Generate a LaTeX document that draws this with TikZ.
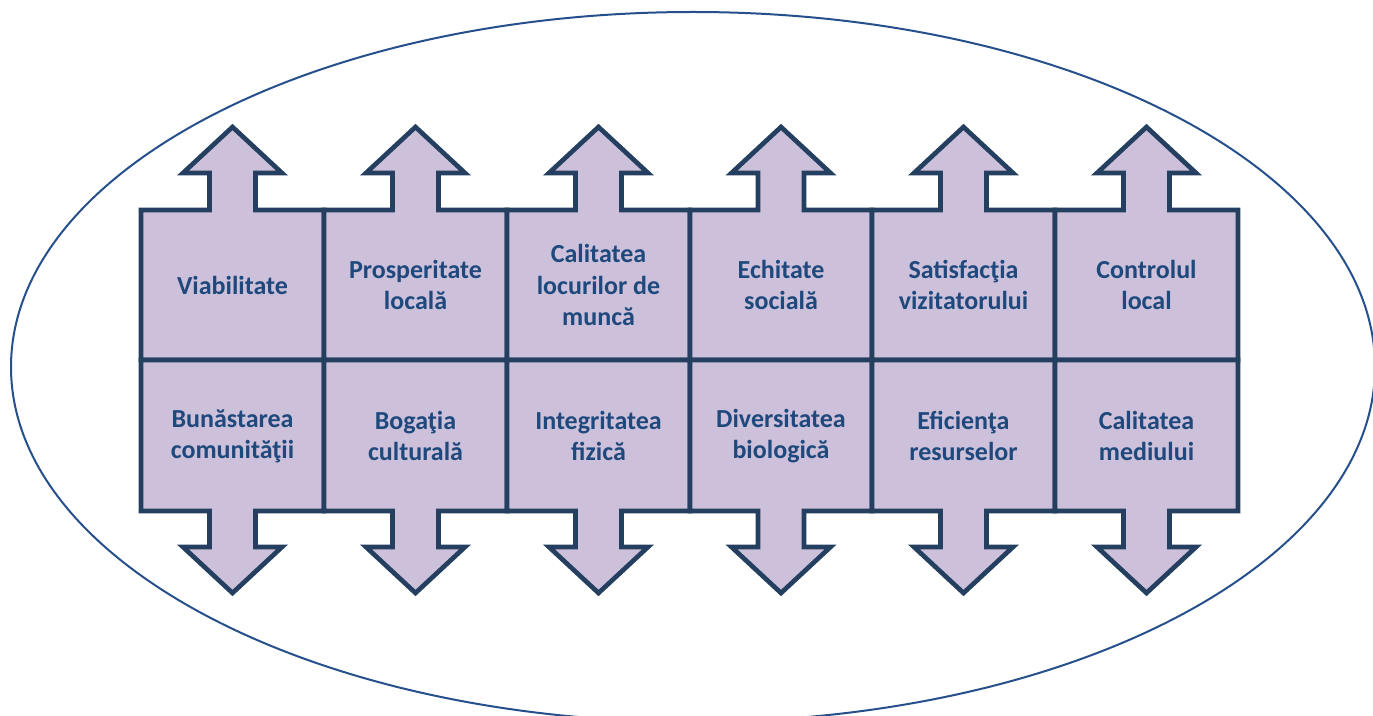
\documentclass[tikz,border=0pt]{standalone}
\usepackage{fontspec}
\setmainfont{Carlito}
\definecolor{cellfill}{HTML}{CCC0DA}
\definecolor{celledge}{HTML}{243F60}
\definecolor{celltext}{HTML}{1F497D}
\definecolor{ovaledge}{HTML}{25508C}

\tikzset{every picture/.style={line width=0.75pt}}
\tikzset{
  cell/.style={draw=celledge, fill=cellfill, line width=3.5pt, line join=miter},
  lbl/.style={text=celltext, font=\fontsize{19.5}{23.3}\selectfont\bfseries, inner sep=0.75pt, align=center}
}

\begin{document}
\begin{tikzpicture}[x=0.75pt,y=0.75pt,yscale=-1,xscale=1]
		\useasboundingbox (0,0) rectangle (1373,716);
		\clip (0,0) rectangle (1373,716);
		
		%Shape: Ellipse [id:oval]
		\draw [color=ovaledge, line width=1.5pt] (693,367) ellipse [x radius=682, y radius=355];
		
		%Shape: Up Arrow Cell [id:col1top]
		\draw [cell] (141,360) -- (141,210) -- (209.5,210) -- (209.5,173) -- (183,173) -- (232.5,127) -- (282,173) -- (255.5,173) -- (255.5,210) -- (324,210) -- (324,360) -- cycle ;
		%Shape: Up Arrow Cell [id:col2top]
		\draw [cell] (324,360) -- (324,210) -- (392.5,210) -- (392.5,173) -- (366,173) -- (415.5,127) -- (465,173) -- (438.5,173) -- (438.5,210) -- (507,210) -- (507,360) -- cycle ;
		%Shape: Up Arrow Cell [id:col3top]
		\draw [cell] (507,360) -- (507,210) -- (575.5,210) -- (575.5,173) -- (549,173) -- (598.5,127) -- (648,173) -- (621.5,173) -- (621.5,210) -- (690,210) -- (690,360) -- cycle ;
		%Shape: Up Arrow Cell [id:col4top]
		\draw [cell] (690,360) -- (690,210) -- (758,210) -- (758,173) -- (731.5,173) -- (781,127) -- (830.5,173) -- (804,173) -- (804,210) -- (872,210) -- (872,360) -- cycle ;
		%Shape: Up Arrow Cell [id:col5top]
		\draw [cell] (872,360) -- (872,210) -- (940.5,210) -- (940.5,173) -- (914,173) -- (963.5,127) -- (1013,173) -- (986.5,173) -- (986.5,210) -- (1055,210) -- (1055,360) -- cycle ;
		%Shape: Up Arrow Cell [id:col6top]
		\draw [cell] (1055,360) -- (1055,210) -- (1123.5,210) -- (1123.5,173) -- (1097,173) -- (1146.5,127) -- (1196,173) -- (1169.5,173) -- (1169.5,210) -- (1238,210) -- (1238,360) -- cycle ;
		
		%Shape: Down Arrow Cell [id:col1bot]
		\draw [cell] (141,360) -- (141,511) -- (209.5,511) -- (209.5,547) -- (183,547) -- (232.5,593) -- (282,547) -- (255.5,547) -- (255.5,511) -- (324,511) -- (324,360) -- cycle ;
		%Shape: Down Arrow Cell [id:col2bot]
		\draw [cell] (324,360) -- (324,511) -- (392.5,511) -- (392.5,547) -- (366,547) -- (415.5,593) -- (465,547) -- (438.5,547) -- (438.5,511) -- (507,511) -- (507,360) -- cycle ;
		%Shape: Down Arrow Cell [id:col3bot]
		\draw [cell] (507,360) -- (507,511) -- (575.5,511) -- (575.5,547) -- (549,547) -- (598.5,593) -- (648,547) -- (621.5,547) -- (621.5,511) -- (690,511) -- (690,360) -- cycle ;
		%Shape: Down Arrow Cell [id:col4bot]
		\draw [cell] (690,360) -- (690,511) -- (758,511) -- (758,547) -- (731.5,547) -- (781,593) -- (830.5,547) -- (804,547) -- (804,511) -- (872,511) -- (872,360) -- cycle ;
		%Shape: Down Arrow Cell [id:col5bot]
		\draw [cell] (872,360) -- (872,511) -- (940.5,511) -- (940.5,547) -- (914,547) -- (963.5,593) -- (1013,547) -- (986.5,547) -- (986.5,511) -- (1055,511) -- (1055,360) -- cycle ;
		%Shape: Down Arrow Cell [id:col6bot]
		\draw [cell] (1055,360) -- (1055,511) -- (1123.5,511) -- (1123.5,547) -- (1097,547) -- (1146.5,593) -- (1196,547) -- (1169.5,547) -- (1169.5,511) -- (1238,511) -- (1238,360) -- cycle ;
		
		\node [lbl] (viab) at (232.5,285) {Viabilitate};
		\node [lbl] (prosp) at (415.5,285) {Prosperitate\\locală};
		\node [lbl] (calloc) at (598.5,285) {Calitatea\\locurilor de\\muncă};
		\node [lbl] (echit) at (781,285) {Echitate\\socială};
		\node [lbl] (satisf) at (963.5,285) {Satisfacţia\\vizitatorului};
		\node [lbl] (control) at (1146.5,285) {Controlul\\local};
		\node [lbl] (bunast) at (232.5,436) {Bunăstarea\\comunităţii};
		\node [lbl] (bogat) at (415.5,436) {Bogaţia\\culturală};
		\node [lbl] (integr) at (598.5,436) {Integritatea\\fizică};
		\node [lbl] (divers) at (781,436) {Diversitatea\\biologică};
		\node [lbl] (efic) at (963.5,436) {Eficienţa\\resurselor};
		\node [lbl] (calmed) at (1146.5,436) {Calitatea\\mediului};
		
	\end{tikzpicture}
\end{document}
